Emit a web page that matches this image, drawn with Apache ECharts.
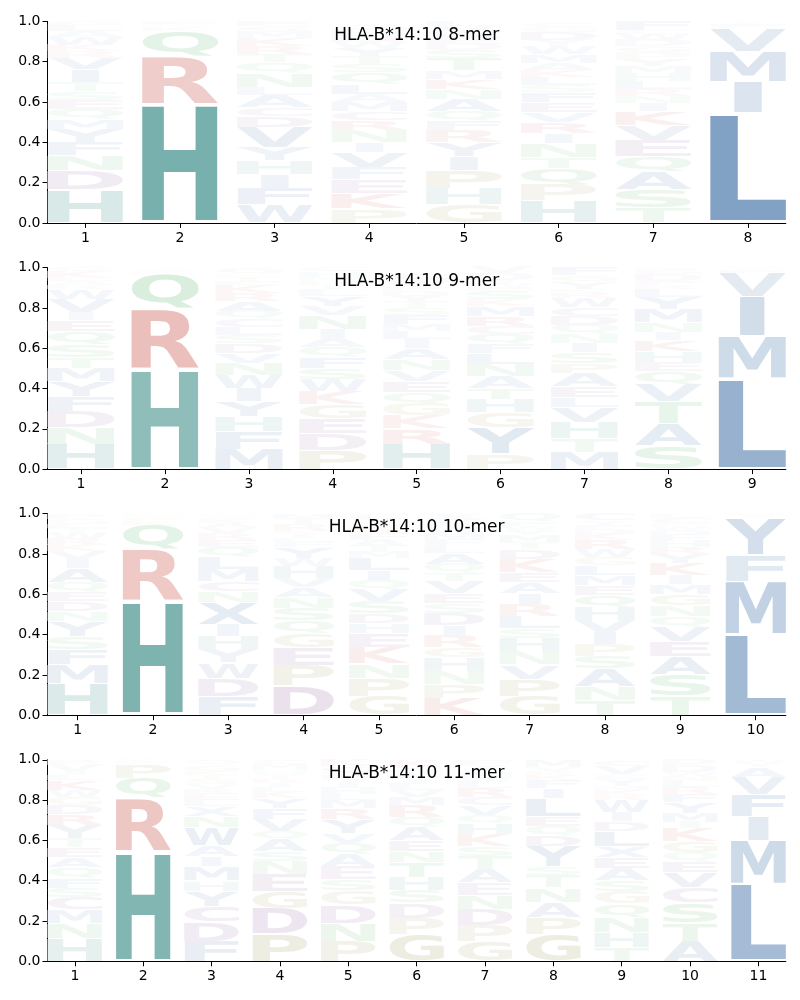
<!DOCTYPE html>
<html><head><meta charset="utf-8">
<script src="https://cdn.jsdelivr.net/npm/echarts@6/dist/echarts.min.js"></script>
<style>html,body{margin:0;padding:0;background:#fff}#c{width:800px;height:1000px}</style>
</head><body><div id="c"></div><script>
const titles = ['HLA-B*14:10 8-mer','HLA-B*14:10 9-mer','HLA-B*14:10 10-mer','HLA-B*14:10 11-mer'];
const yTicks = [0, 0.2, 0.4, 0.6, 0.8, 1.0];

// each column: letters stacked bottom -> top with their frequencies
const mer8 = [
 [['H',.165],['D',.095],['N',.075],['F',.065],['Y',.065],['M',.05],['Q',.05],['E',.045],['S',.045],['T',.045],['I',.06],['V',.06],['R',.03],['K',.03],['W',.04],['A',.03],['L',.03],['G',.02]],
 [['H',.59],['R',.235],['Q',.125],['K',.02],['S',.015],['E',.015]],
 [['W',.09],['F',.08],['I',.07],['H',.07],['Y',.065],['V',.1],['D',.055],['C',.045],['A',.06],['L',.04],['N',.07],['Q',.05],['T',.04],['R',.04],['K',.04],['M',.03],['S',.03],['E',.025]],
 [['P',.07],['K',.075],['E',.07],['F',.06],['V',.075],['I',.05],['N',.06],['R',.05],['C',.045],['M',.045],['A',.04],['L',.05],['Q',.055],['S',.04],['T',.04],['Y',.04],['W',.03],['D',.03],['H',.03],['G',.025]],
 [['G',.09],['H',.08],['P',.09],['I',.07],['Y',.07],['R',.06],['F',.045],['Q',.05],['A',.06],['N',.05],['K',.05],['M',.04],['T',.06],['S',.04],['D',.03],['E',.03],['W',.03],['V',.03],['L',.025]],
 [['H',.11],['P',.08],['Q',.08],['T',.055],['N',.07],['I',.05],['R',.055],['V',.05],['E',.05],['F',.05],['S',.035],['L',.04],['K',.035],['A',.035],['M',.04],['W',.04],['Y',.03],['D',.04],['G',.025],['C',.02]],
 [['T',.075],['S',.09],['A',.09],['Q',.075],['E',.08],['V',.075],['K',.07],['I',.04],['N',.035],['R',.035],['L',.04],['H',.04],['M',.035],['Y',.035],['P',.03],['G',.03],['D',.03],['W',.03],['C',.02],['F',.045]],
 [['L',.545],['I',.155],['M',.15],['V',.115],['F',.02],['Y',.01],['A',.005]]
];
const mer9 = [
 [['H',.125],['N',.08],['D',.08],['F',.075],['Y',.075],['M',.065],['T',.055],['S',.065],['Q',.065],['E',.055],['I',.04],['V',.065],['W',.05],['R',.02],['A',.02],['L',.015],['K',.03],['G',.02]],
 [['H',.495],['R',.30],['Q',.175],['K',.015],['S',.01],['E',.005]],
 [['M',.10],['F',.085],['H',.075],['Y',.075],['I',.065],['W',.065],['N',.06],['V',.05],['D',.05],['S',.04],['L',.04],['C',.04],['Q',.04],['A',.05],['R',.04],['K',.04],['E',.02],['T',.02],['P',.015],['G',.03]],
 [['P',.095],['D',.08],['E',.075],['G',.07],['K',.065],['W',.06],['S',.055],['F',.055],['Q',.05],['A',.045],['I',.045],['N',.07],['V',.045],['Y',.05],['L',.03],['T',.025],['R',.02],['M',.02],['H',.025],['C',.02]],
 [['H',.125],['R',.075],['K',.065],['G',.06],['Q',.055],['E',.055],['V',.055],['N',.055],['A',.055],['I',.045],['L',.04],['M',.035],['F',.045],['S',.035],['T',.03],['Y',.03],['D',.025],['P',.025],['W',.03],['C',.03]],
 [['P',.075],['Y',.13],['G',.075],['H',.065],['T',.055],['A',.06],['N',.06],['L',.055],['F',.045],['Q',.05],['C',.04],['R',.05],['M',.05],['K',.03],['S',.045],['E',.02],['W',.02],['I',.015],['D',.03],['V',.03]],
 [['M',.085],['T',.065],['H',.08],['V',.075],['L',.05],['E',.055],['A',.065],['P',.05],['S',.055],['I',.045],['N',.045],['Q',.045],['D',.045],['C',.045],['W',.045],['R',.025],['K',.02],['Y',.035],['G',.03],['F',.04]],
 [['S',.115],['A',.11],['T',.11],['V',.085],['Q',.065],['E',.045],['H',.055],['K',.055],['I',.04],['N',.05],['M',.065],['Y',.06],['L',.04],['R',.02],['F',.02],['D',.03],['G',.02],['P',.015]],
 [['L',.45],['M',.21],['I',.195],['V',.12],['F',.015],['Y',.01]]
];
const mer10 = [
 [['H',.155],['M',.095],['F',.075],['S',.065],['Y',.075],['N',.05],['D',.05],['E',.045],['Q',.05],['A',.07],['I',.045],['V',.04],['K',.03],['R',.03],['W',.03],['T',.025],['L',.02],['G',.025],['P',.025]],
 [['H',.565],['R',.255],['Q',.125],['K',.02],['P',.015],['S',.01],['N',.01]],
 [['F',.095],['D',.09],['W',.075],['Y',.065],['H',.065],['I',.06],['X',.11],['N',.055],['C',.05],['M',.06],['L',.06],['Q',.05],['E',.035],['R',.03],['V',.03],['A',.025],['K',.02],['S',.015],['G',.01]],
 [['D',.145],['P',.10],['E',.09],['G',.07],['Q',.065],['S',.06],['N',.055],['A',.05],['V',.045],['H',.06],['W',.04],['Y',.055],['F',.025],['L',.02],['I',.02],['K',.015],['R',.03],['T',.03],['M',.025]],
 [['G',.095],['P',.09],['N',.07],['K',.08],['E',.07],['H',.05],['D',.05],['S',.06],['V',.06],['Q',.045],['I',.05],['L',.06],['M',.03],['T',.03],['A',.03],['F',.03],['R',.03],['W',.02],['Y',.03],['C',.02]],
 [['K',.085],['P',.07],['N',.065],['H',.065],['G',.05],['R',.06],['I',.05],['D',.06],['S',.05],['E',.05],['V',.06],['T',.04],['Q',.045],['A',.055],['L',.035],['F',.03],['M',.03],['W',.03],['Y',.02],['C',.025],['X',.025]],
 [['G',.095],['P',.085],['V',.07],['N',.065],['H',.065],['S',.05],['L',.06],['R',.06],['I',.055],['A',.055],['E',.05],['K',.065],['D',.05],['T',.035],['M',.035],['Y',.025],['W',.02],['F',.02],['Q',.04]],
 [['T',.075],['N',.07],['A',.085],['S',.06],['P',.06],['I',.06],['V',.06],['H',.065],['Q',.06],['E',.05],['M',.05],['L',.05],['G',.04],['W',.04],['R',.045],['K',.03],['D',.025],['F',.02],['Y',.02],['C',.035]],
 [['T',.095],['S',.105],['A',.09],['E',.075],['V',.075],['Q',.05],['N',.055],['G',.055],['M',.05],['I',.045],['K',.06],['Y',.045],['R',.035],['H',.03],['F',.03],['D',.025],['W',.02],['P',.015],['C',.025],['L',.02]],
 [['L',.40],['M',.265],['F',.13],['Y',.185],['I',.01],['V',.01]]
];
const mer11 = [
 [['H',.115],['N',.075],['M',.065],['C',.06],['S',.05],['F',.05],['Q',.05],['A',.05],['E',.05],['T',.045],['Y',.065],['R',.055],['D',.045],['G',.04],['W',.035],['K',.05],['L',.025],['I',.02],['V',.03],['P',.025]],
 [['H',.545],['R',.265],['Q',.10],['P',.07],['E',.01],['K',.01]],
 [['F',.10],['D',.095],['C',.08],['Y',.075],['H',.05],['M',.07],['I',.05],['A',.055],['W',.09],['N',.055],['X',.05],['L',.03],['E',.03],['R',.025],['V',.025],['S',.025],['T',.02],['K',.02],['G',.03],['Q',.025]],
 [['P',.135],['D',.125],['G',.085],['E',.085],['N',.065],['S',.05],['A',.06],['Q',.04],['V',.06],['F',.055],['Y',.05],['K',.03],['L',.025],['I',.02],['R',.02],['T',.02],['W',.015],['H',.015],['M',.025],['C',.02]],
 [['P',.10],['N',.09],['D',.09],['G',.07],['S',.055],['E',.065],['A',.06],['Q',.055],['V',.05],['Y',.07],['R',.055],['M',.04],['L',.03],['H',.03],['I',.025],['T',.02],['F',.02],['W',.015],['C',.03],['K',.03]],
 [['G',.135],['P',.08],['D',.075],['S',.06],['H',.065],['T',.075],['N',.055],['E',.055],['A',.065],['Q',.05],['R',.06],['M',.04],['V',.035],['L',.03],['I',.025],['F',.025],['W',.02],['Y',.015],['K',.035]],
 [['G',.10],['P',.08],['D',.08],['N',.07],['E',.06],['A',.065],['T',.065],['S',.05],['K',.06],['H',.055],['Q',.04],['V',.05],['C',.04],['R',.045],['L',.03],['W',.025],['M',.025],['I',.02],['Y',.015],['F',.025]],
 [['G',.135],['P',.085],['A',.075],['N',.07],['T',.06],['S',.045],['Y',.10],['D',.055],['Q',.045],['E',.05],['L',.09],['I',.05],['F',.04],['K',.025],['R',.02],['V',.02],['M',.035]],
 [['T',.07],['H',.075],['N',.075],['Q',.065],['G',.06],['S',.055],['A',.06],['E',.055],['X',.055],['L',.075],['D',.05],['I',.045],['W',.06],['R',.025],['K',.025],['M',.02],['Y',.03],['F',.015],['P',.015],['V',.04],['C',.03]],
 [['A',.10],['T',.09],['S',.10],['C',.075],['V',.075],['E',.055],['Q',.045],['G',.055],['K',.065],['I',.03],['M',.045],['Y',.055],['F',.04],['R',.035],['L',.03],['N',.025],['W',.02],['D',.03],['P',.03]],
 [['L',.385],['M',.215],['I',.12],['F',.11],['V',.085],['A',.05],['Y',.02],['W',.015]]
];
const panels = [mer8, mer9, mer10, mer11];

const COLORS = {blue:[24,82,149], teal:[26,121,116], red:[188,42,32], green:[40,160,60], purple:[110,50,130], tan:[130,120,40]};
const GROUP = {A:'blue',C:'purple',D:'purple',E:'purple',F:'blue',G:'tan',H:'teal',I:'blue',K:'red',L:'blue',M:'blue',N:'green',P:'tan',Q:'green',R:'red',S:'green',T:'green',V:'blue',W:'blue',Y:'blue',X:'blue'};
const ALPHA = 'ACDEFGHIKLMNPQRSTVWYX';

const FONT = 'bold 200px "DejaVu Sans"';
const mc = document.createElement('canvas').getContext('2d');
mc.font = FONT; mc.textAlign = 'left'; mc.textBaseline = 'middle';
const GB = {};
for (const ch of ALPHA) {
  const m = mc.measureText(ch);
  GB[ch] = {l: m.actualBoundingBoxLeft, r: m.actualBoundingBoxRight, a: m.actualBoundingBoxAscent, d: m.actualBoundingBoxDescent};
}
const E_W = GB.E.l + GB.E.r;

function fillFor(ch, h) {
  const c = COLORS[GROUP[ch]];
  const f = v => Math.round(255 - h * (255 - v));
  return 'rgb(' + f(c[0]) + ',' + f(c[1]) + ',' + f(c[2]) + ')';
}

function renderItem(params, api) {
  const pos = api.value(0), y0 = api.value(1), y1 = api.value(2), li = api.value(3);
  const ch = ALPHA[li];
  const g = GB[ch];
  const h = y1 - y0;
  const pad = h * 0.025;
  const tl = api.coord([pos - 0.4, y1 - pad]);
  const br = api.coord([pos + 0.4, y0 + pad]);
  const boxW = br[0] - tl[0], boxH = br[1] - tl[1];
  if (boxH < 0.2) return null;
  const cw = g.l + g.r, chh = g.a + g.d;
  const sx = Math.min(boxW / cw, boxW / E_W);
  const gw = cw * sx;
  const xl = tl[0] + (boxW - gw) / 2;
  const sy = boxH / chh;
  const col = fillFor(ch, h);
  return {
    type: 'text', silent: true,
    x: xl + sx * g.l, y: tl[1] + sy * g.a, scaleX: sx, scaleY: sy,
    style: {text: ch, font: FONT, fill: col, textAlign: 'left', textVerticalAlign: 'middle', align: 'left', verticalAlign: 'middle'}
  };
}

const tops = [21.4, 267.6, 513.7, 759.8];
const gridH = 201.5, gridL = 47.5, gridW = 738.3;

const option = {
  animation: false,
  backgroundColor: '#fff',
  grid: tops.map(t => ({left: gridL, top: t, width: gridW, height: gridH})),
  xAxis: panels.map((p, i) => {
    const pos = p.map((_, k) => k + 1);
    return {
      gridIndex: i, type: 'value', min: 0.6, max: p.length + 0.4,
      axisLine: {show: true, lineStyle: {color: '#000', width: 1}},
      axisTick: {show: true, customValues: pos, length: 5, lineStyle: {color: '#000', width: 1}},
      axisLabel: {customValues: pos, color: '#000', fontSize: 14, fontFamily: 'DejaVu Sans', margin: 8},
      splitLine: {show: false}
    };
  }),
  yAxis: panels.map((p, i) => ({
    gridIndex: i, type: 'value', min: 0, max: 1, interval: 0.2,
    axisLine: {show: true, lineStyle: {color: '#000', width: 1}},
    axisTick: {show: true, length: 5, lineStyle: {color: '#000', width: 1}},
    axisLabel: {color: '#000', fontSize: 14, fontFamily: 'DejaVu Sans', margin: 7, formatter: v => v.toFixed(1)},
    splitLine: {show: false}
  })),
  graphic: {
    elements: titles.map((t, i) => ({
      type: 'text', x: gridL + gridW / 2, y: tops[i] + 14.1, silent: true, z: 100, zlevel: 0,
      style: {text: t, font: '17px "DejaVu Sans"', fill: '#000', textAlign: 'center', textVerticalAlign: 'middle', align: 'center', verticalAlign: 'middle'}
    }))
  },
  series: panels.map((p, i) => {
    const data = [];
    p.forEach((col, k) => {
      let acc = 0;
      col.forEach(([ch, v]) => {
        data.push([k + 1, acc, acc + v, ALPHA.indexOf(ch)]);
        acc += v;
      });
    });
    return {type: 'custom', xAxisIndex: i, yAxisIndex: i, renderItem, data, encode: {x: 0, y: [1, 2]}, silent: true, clip: false, animation: false, z: 2};
  })
};

const chart = echarts.init(document.getElementById('c'), null, {renderer: 'canvas'});
chart.setOption(option);
</script></body></html>
